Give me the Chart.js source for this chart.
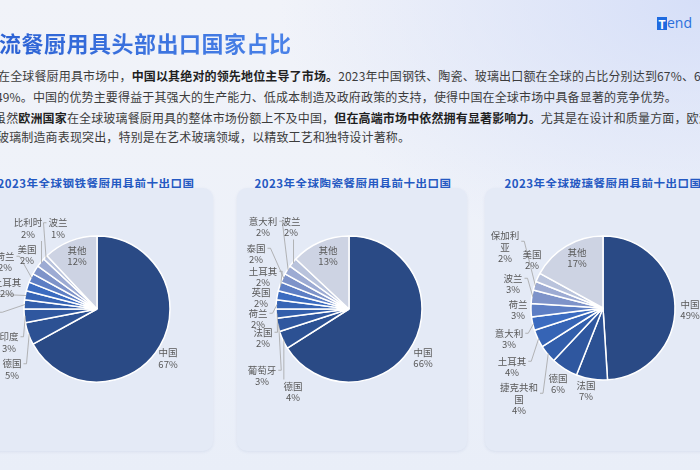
<!DOCTYPE html>
<html>
<head>
<meta charset="utf-8">
<script src="https://cdn.jsdelivr.net/npm/chart.js@4/dist/chart.umd.min.js"></script>
<style>
html,body{margin:0;padding:0;}
body{width:700px;height:470px;overflow:hidden;position:relative;
  font-family:"Noto Sans CJK SC","Noto Sans",sans-serif;
  background:radial-gradient(ellipse 420px 260px at 100% 0%, #d6dff8 0%, rgba(214,223,248,0) 100%),
             linear-gradient(180deg,#f1f3f9 0%,#edf1f9 60%,#e9eef8 100%);}
.title{position:absolute;left:-1px;top:27px;font-size:22px;font-weight:700;letter-spacing:0.5px;line-height:30px;white-space:nowrap;
  background:linear-gradient(90deg,#2c62d4,#4a82e8);-webkit-background-clip:text;background-clip:text;color:transparent;}
.line{position:absolute;font-size:12px;line-height:16px;color:#3c3c3c;white-space:nowrap;letter-spacing:0.15px;}
.line b{color:#1f1f1f;font-weight:700;}
.logo{position:absolute;left:657px;top:15px;height:16px;white-space:nowrap;}
.logo .t{display:inline-block;width:10px;height:13px;background:#1f6be0;color:#fff;font-size:12px;font-weight:700;line-height:13px;text-align:center;vertical-align:top;margin-top:2px;}
.logo .e{display:inline-block;color:#2a6fdc;font-size:14px;line-height:16px;vertical-align:top;font-family:"Open Sans","Noto Sans",sans-serif;}
.card{position:absolute;top:188px;width:230px;height:263px;border-radius:10px;background:#e4eaf6;box-shadow:0 1px 3px rgba(120,140,190,0.15);}
.card canvas{position:absolute;left:0;top:0;}
.ctitle{position:absolute;top:175px;width:230px;text-align:center;font-size:11.5px;font-weight:700;color:#2559c2;letter-spacing:0.5px;line-height:16px;white-space:nowrap;}
</style>
</head>
<body>
<div class="title">流餐厨用具头部出口国家占比</div>
<div class="logo"><span class="t">T</span><span class="e">end</span></div>
<div class="line" style="left:-2px;top:68px;">在全球餐厨用具市场中，<b>中国以其绝对的领先地位主导了市场。</b>2023年中国钢铁、陶瓷、玻璃出口额在全球的占比分别达到67%、66%和</div>
<div class="line" style="left:-4px;top:89px;">49%。中国的优势主要得益于其强大的生产能力、低成本制造及政府政策的支持，使得中国在全球市场中具备显著的竞争优势。</div>
<div class="line" style="left:-6px;top:110px;">虽然<b>欧洲国家</b>在全球玻璃餐厨用具的整体市场份额上不及中国，<b>但在高端市场中依然拥有显著影响力。</b>尤其是在设计和质量方面，欧洲的</div>
<div class="line" style="left:-3px;top:129px;">玻璃制造商表现突出，特别是在艺术玻璃领域，以精致工艺和独特设计著称。</div>

<div class="ctitle" style="left:-19px;" id="t0"></div>
<div class="ctitle" style="left:238px;" id="t1"></div>
<div class="ctitle" style="left:488px;" id="t2"></div>

<div class="card" style="left:-17px;"><canvas id="c0" width="230" height="263"></canvas></div>
<div class="card" style="left:237px;"><canvas id="c1" width="230" height="263"></canvas></div>
<div class="card" style="left:485px;"><canvas id="c2" width="230" height="263"></canvas></div>

<script>
// ---- data ----
const chartTitles = ['2023年全球钢铁餐厨用具前十出口国','2023年全球陶瓷餐厨用具前十出口国','2023年全球玻璃餐厨用具前十出口国'];
const steelCountries = ['中国','德国','印度','意大利','越南','土耳其','荷兰','美国','比利时','波兰','其他'];
const steelShares = [67,5,3,2,2,2,2,2,2,1,12];
const ceramicCountries = ['中国','德国','葡萄牙','法国','荷兰','英国','土耳其','泰国','意大利','波兰','其他'];
const ceramicShares = [66,4,3,2,2,2,2,2,2,2,13];
const glassCountries = ['中国','法国','德国','捷克共和国','土耳其','意大利','荷兰','波兰','保加利亚','美国','其他'];
const glassShares = [49,7,6,4,4,3,3,3,2,2,17];

// ---- styling / layout ----
const sliceColors = ['#2a4a85','#2c5193','#2f579f','#325eab','#3664b5','#3b6bc0','#5d7ec4','#7e93c9','#9dabd3','#b9c3dc','#cdd3e3'];
const labelWrap = {'捷克共和国':4,'保加利亚':3};
const pieGeom = [ {cx:114, cy:121, r:73}, {cx:112, cy:121, r:73}, {cx:118, cy:120, r:72} ];
const labelOffsets = [
  [[71,49.5],[-85,60.5],[-88,33.5],[-114,9],[-116,-9],[-90,-21],[-92,-47],[-70,-54],[-69,-80.5],[-39,-80.5],[-20,-53]],
  [[74,49],[-56,83],[-87,67],[-86,29],[-91,10],[-88,-11],[-86,-32],[-93,-55],[-86,-82],[-58,-82],[-21,-53]],
  [[87,2],[-17,83],[-45,76],[-84,91],[-91,59],[-94,31],[-85,2],[-90,-24],[-98,-61],[-71,-48],[-26,-50]]
];

const labelPlugin = {
  id:'pieLabels',
  afterDatasetsDraw(chart, args, opts){
    const ctx = chart.ctx;
    const meta = chart.getDatasetMeta(0);
    const ds = chart.data.datasets[0];
    const labels = chart.data.labels;
    ctx.save();
    ctx.font = '9.5px "Noto Sans CJK SC", sans-serif';
    ctx.textAlign = 'center';
    ctx.textBaseline = 'middle';
    const lh = 11.5;
    meta.data.forEach((arc,i)=>{
      const p = arc.getProps(['x','y','startAngle','endAngle','outerRadius'], true);
      const mid = (p.startAngle + p.endAngle)/2;
      const off = opts.offsets[i];
      const lx = p.x + off[0], ly = p.y + off[1];
      const name = labels[i];
      const n = labelWrap[name];
      const lines = n ? [name.slice(0,n), name.slice(n)] : [name];
      lines.push(ds.data[i] + '%');
      const w = Math.max(...lines.map(s=>ctx.measureText(s).width));
      const h = lines.length*lh;
      const left = lx-w/2, right = lx+w/2, top = ly-h/2, bottom = ly+h/2;
      const px = p.x + Math.cos(mid)*(p.outerRadius-1);
      const py = p.y + Math.sin(mid)*(p.outerRadius-1);
      let ax, ay, stub = 0;
      if (px > right+2) { ax = right+2; ay = ly - lh/2; stub = 3; }
      else if (px < left-2) { ax = left-2; ay = ly - lh/2; stub = -3; }
      else if (py > bottom) { ax = Math.min(Math.max(px,left),right); ay = bottom+1; }
      else { ax = Math.min(Math.max(px,left),right); ay = top-1; }
      const inside = Math.hypot(off[0],off[1]) < p.outerRadius;
      if (!inside && Math.hypot(ax-px, ay-py) > 10) {
        ctx.strokeStyle = '#a3a3a3';
        ctx.lineWidth = 0.8;
        ctx.beginPath();
        ctx.moveTo(ax, ay);
        if (stub) ctx.lineTo(ax+stub, ay);
        ctx.lineTo(px, py);
        ctx.stroke();
      }
      ctx.fillStyle = '#595959';
      lines.forEach((s,k)=>{
        ctx.fillText(s, lx, top + lh/2 + k*lh);
      });
    });
    ctx.restore();
  }
};

function makePie(idx, cats, vals){
  document.getElementById('t'+idx).textContent = chartTitles[idx];
  const g = pieGeom[idx];
  const W = 230, H = 263;
  new Chart(document.getElementById('c'+idx), {
    type:'pie',
    data:{ labels:cats, datasets:[{ data:vals, backgroundColor:sliceColors, borderColor:'#ffffff', borderWidth:1.5 }] },
    options:{
      responsive:false, animation:false, devicePixelRatio:1,
      radius:g.r,
      layout:{ padding:{ left:g.cx-g.r-3, right:W-g.cx-g.r-3, top:g.cy-g.r-3, bottom:H-g.cy-g.r-3 } },
      plugins:{ legend:{display:false}, tooltip:{enabled:false}, pieLabels:{ offsets:labelOffsets[idx] } }
    },
    plugins:[labelPlugin]
  });
}
makePie(0, steelCountries, steelShares);
makePie(1, ceramicCountries, ceramicShares);
makePie(2, glassCountries, glassShares);
</script>
</body>
</html>
